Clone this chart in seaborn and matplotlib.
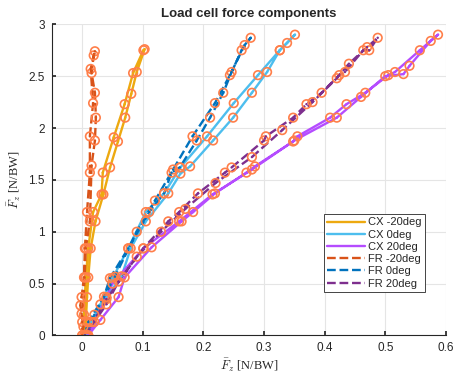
import numpy as np
import pandas as pd
import matplotlib
matplotlib.use("Agg")
import matplotlib.pyplot as plt
import seaborn as sns

# Load cycles (loading branch followed by unloading branch) for each condition
cx_m20_x = [0.004, 0.006, 0.008, 0.010, 0.014, 0.022, 0.035, 0.046, 0.059, 0.071, 0.081, 0.090, 0.103,
            0.101, 0.084, 0.070, 0.052, 0.034, 0.032, 0.018, 0.010, 0.006, 0.003, 0.004]
cx_m20_y = [0.00, 0.13, 0.37, 0.56, 0.84, 1.10, 1.36, 1.62, 1.87, 2.10, 2.33, 2.54, 2.76,
            2.75, 2.53, 2.23, 1.91, 1.57, 1.36, 1.19, 0.84, 0.56, 0.20, 0.00]

cx_0_x = [0.008, 0.015, 0.040, 0.065, 0.080, 0.105, 0.142, 0.162, 0.178, 0.216, 0.249, 0.280, 0.305, 0.326, 0.351,
          0.338, 0.326, 0.290, 0.250, 0.206, 0.162, 0.135, 0.105, 0.076, 0.050, 0.030, 0.008]
cx_0_y = [0.00, 0.13, 0.37, 0.57, 0.84, 1.10, 1.37, 1.56, 1.63, 1.88, 2.10, 2.34, 2.54, 2.75, 2.90,
          2.82, 2.75, 2.51, 2.24, 1.92, 1.62, 1.37, 1.19, 0.84, 0.55, 0.30, 0.00]

cx_20_x = [0.010, 0.030, 0.060, 0.070, 0.1145, 0.164, 0.183, 0.219, 0.271, 0.285, 0.348, 0.355, 0.409, 0.436, 0.467,
           0.505, 0.516, 0.557, 0.587,
           0.575, 0.540, 0.530, 0.500, 0.460, 0.420, 0.350, 0.280, 0.215, 0.160, 0.101, 0.050, 0.010]
cx_20_y = [0.00, 0.15, 0.37, 0.56, 0.85, 1.10, 1.19, 1.37, 1.57, 1.63, 1.87, 1.92, 2.10, 2.23, 2.34,
           2.51, 2.54, 2.75, 2.90,
           2.84, 2.60, 2.52, 2.50, 2.30, 2.10, 1.88, 1.60, 1.36, 1.10, 0.84, 0.50, 0.00]

fr_m20_x = [0.000, 0.002, -0.001, -0.003, -0.001, 0.003, 0.0045, 0.008, 0.0127, 0.0127, 0.018, 0.014, 0.021,
            0.019, 0.0155, 0.021, 0.0226, 0.021, 0.0155, 0.0127, 0.006, 0.004, 0.000, 0.000]
fr_m20_y = [0.00, 0.085, 0.21, 0.29, 0.37, 0.56, 0.84, 1.19, 1.57, 1.92, 2.24, 2.57, 2.74,
            2.70, 2.53, 2.34, 2.10, 1.88, 1.64, 1.10, 0.84, 0.56, 0.13, 0.00]

fr_0_x = [0.004, 0.010, 0.036, 0.0457, 0.076, 0.1106, 0.135, 0.1475, 0.161, 0.189, 0.211, 0.2327, 0.2465, 0.263, 0.278,
          0.268, 0.2437, 0.219, 0.182, 0.150, 0.120, 0.090, 0.054, 0.020, 0.004]
fr_0_y = [0.00, 0.13, 0.374, 0.552, 0.84, 1.19, 1.37, 1.57, 1.62, 1.88, 2.10, 2.34, 2.54, 2.75, 2.87,
          2.80, 2.51, 2.24, 1.92, 1.60, 1.30, 1.00, 0.567, 0.20, 0.00]

fr_20_x = [0.005, 0.020, 0.040, 0.060, 0.1007, 0.142, 0.160, 0.191, 0.2355, 0.2465, 0.300, 0.303, 0.348, 0.370, 0.395,
           0.424, 0.4335, 0.4637, 0.4735, 0.4875,
           0.470, 0.440, 0.420, 0.380, 0.330, 0.280, 0.220, 0.170, 0.130, 0.090, 0.040, 0.005]
fr_20_y = [0.00, 0.13, 0.30, 0.52, 0.84, 1.10, 1.19, 1.37, 1.57, 1.62, 1.88, 1.92, 2.10, 2.23, 2.34,
           2.51, 2.54, 2.75, 2.75, 2.87,
           2.78, 2.62, 2.48, 2.25, 1.98, 1.72, 1.47, 1.22, 1.00, 0.76, 0.35, 0.00]

series_names = ["CX -20deg", "CX 0deg", "CX 20deg", "FR -20deg", "FR 0deg", "FR 20deg"]
series_x = [cx_m20_x, cx_0_x, cx_20_x, fr_m20_x, fr_0_x, fr_20_x]
series_y = [cx_m20_y, cx_0_y, cx_20_y, fr_m20_y, fr_0_y, fr_20_y]
series_colors = ["#EDA910", "#4DBEEE", "#B54CFF", "#D95319", "#0072BD", "#7E2F8E"]
series_dashes = ["-", "-", "-", "--", "--", "--"]

x_ticks = [0, 0.1, 0.2, 0.3, 0.4, 0.5, 0.6]
y_ticks = [0, 0.5, 1, 1.5, 2, 2.5, 3]

sns.set_theme(style="whitegrid")
plt.rcParams["font.family"] = ["Liberation Sans", "DejaVu Sans"]
plt.rcParams["font.serif"] = ["Liberation Serif", "DejaVu Serif"]
plt.rcParams["mathtext.fontset"] = "cm"

fig = plt.figure(figsize=(4.55, 3.74), dpi=100)
ax = fig.add_axes([0.114, 0.103, 0.866, 0.832])

marker_color = "#FF7F4A"

for name, xs, ys, col, ls in zip(series_names, series_x, series_y, series_colors, series_dashes):
    df = pd.DataFrame({"x": xs, "y": ys})
    sns.lineplot(data=df, x="x", y="y", sort=False, estimator=None, color=col,
                 linestyle=ls, linewidth=1.7, ax=ax, label=name, zorder=2)

for xs, ys, col in zip(series_x, series_y, series_colors):
    df = pd.DataFrame({"x": xs, "y": ys})
    sns.scatterplot(data=df, x="x", y="y", s=38, facecolor="none", edgecolor=marker_color,
                    linewidth=1.2, ax=ax, zorder=3, legend=False)
    sns.scatterplot(data=df, x="x", y="y", s=3, color=col, edgecolor="none",
                    ax=ax, zorder=4, legend=False)

ax.set_xlim(-0.05, 0.6)
ax.set_ylim(0, 3)
ax.set_xticks(x_ticks)
ax.set_xticklabels([f"{v:g}" for v in x_ticks])
ax.set_yticks(y_ticks)
ax.set_yticklabels([f"{v:g}" for v in y_ticks])
ax.tick_params(axis="both", labelsize=8.5, colors="#262626", length=3, direction="in",
               bottom=True, left=True, pad=5)

ax.grid(True, color="#E5E5E5", linewidth=0.8)
ax.set_facecolor("white")
for side in ["top", "right"]:
    ax.spines[side].set_visible(False)
for side in ["left", "bottom"]:
    ax.spines[side].set_color("#262626")
    ax.spines[side].set_linewidth(0.8)

ax.set_xlabel(r"$\bar{F}_z$ [N/BW]", fontsize=9, family="serif", color="#262626", labelpad=2)
ax.set_ylabel(r"$\bar{F}_z$ [N/BW]", fontsize=9, family="serif", color="#262626", labelpad=4)
ax.set_title("Load cell force components", fontsize=9.5, fontweight="bold", pad=5)

leg = ax.legend(loc="lower right", bbox_to_anchor=(0.947, 0.14), fontsize=8, frameon=True,
                fancybox=False, edgecolor="#262626", framealpha=1, handlelength=3.4,
                handletextpad=0.3, labelspacing=0.2, borderpad=0.3, borderaxespad=0)
leg.get_frame().set_linewidth(0.6)

fig.savefig("out.png", dpi=100)
